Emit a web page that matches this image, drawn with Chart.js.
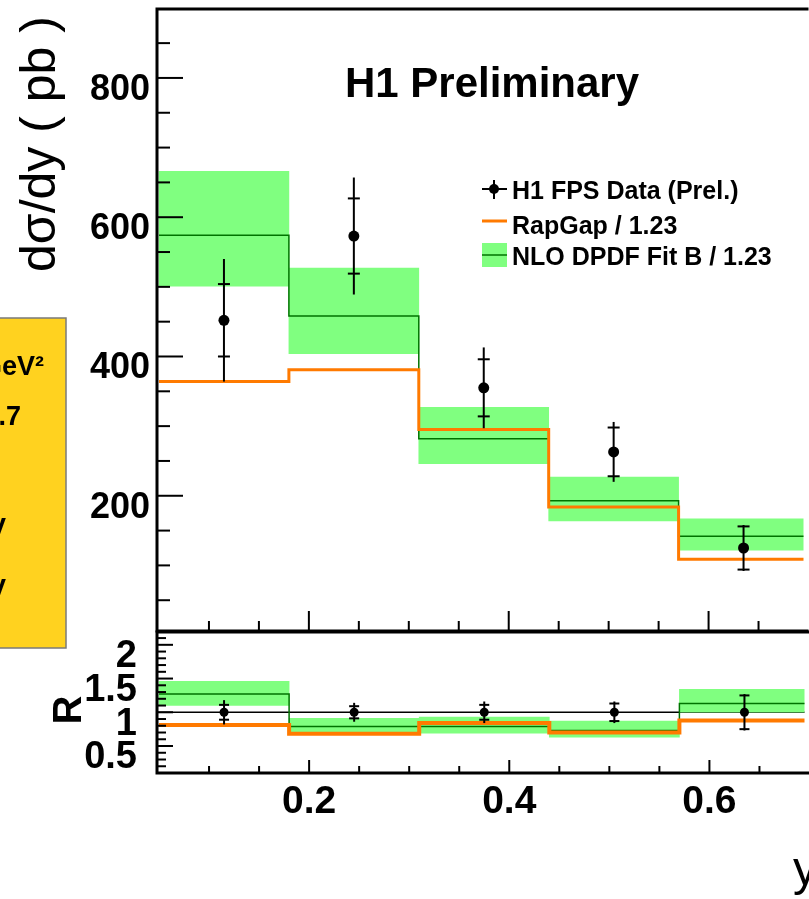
<!DOCTYPE html>
<html>
<head>
<meta charset="utf-8">
<script src="https://cdn.jsdelivr.net/npm/chart.js@4.4.1/dist/chart.umd.min.js"></script>
<style>
  body { margin: 0; background: #fff; }
  #wrap { position: relative; width: 809px; height: 899px; overflow: hidden; }
  #wrap canvas { position: absolute; left: 0; top: 0; }
</style>
</head>
<body>
<div id="wrap">
  <canvas id="upper" width="809" height="899"></canvas>
  <canvas id="lower" width="809" height="899"></canvas>
</div>
<script>
// bins in y
const binEdges = [0.05, 0.18, 0.31, 0.44, 0.57, 0.70];
const binCenters = [0.115, 0.245, 0.375, 0.505, 0.635];

// dsigma/dy (pb)
const h1Data = [452, 573, 355, 263, 125];
const h1Stat = [52, 54, 41, 35, 31];
const h1Tot = [88, 84, 58, 43, 33];
const rapgap = [364, 381, 295, 184, 109];
const nloFit = [574, 458, 282, 193, 142];
const nloLow = [501, 404, 246, 164, 122];
const nloHigh = [666, 527, 327, 227, 167];

// ratio R
const ratioData = [1, 1, 1, 1, 1];
const ratioStat = [0.11, 0.09, 0.11, 0.13, 0.25];
const ratioTot = [0.18, 0.14, 0.16, 0.16, 0.27];
const ratioRapgap = [0.81, 0.68, 0.84, 0.70, 0.88];
const ratioNlo = [1.27, 0.79, 0.79, 0.73, 1.13];
const ratioNloLow = [1.10, 0.69, 0.69, 0.63, 1.00];
const ratioNloHigh = [1.46, 0.91, 0.93, 0.87, 1.34];

const legendLabels = ['H1 FPS Data (Prel.)', 'RapGap / 1.23', 'NLO DPDF Fit B / 1.23'];
const cutLabels = ['4 < Q² < 80 GeV²', '0.05 < y < 0.7', 'x_IP < 0.1', 'E*T,jet1 > 5.5 GeV', 'E*T,jet2 > 4 GeV'];

const FONT = "'Liberation Sans', Arial, Helvetica, sans-serif";
const GREEN = '#80ff80';
const DARK_GREEN = '#007300';
const ORANGE = '#ff7a00';

Chart.defaults.font.family = FONT;
Chart.defaults.color = '#000';

function stepPoints(vals) {
  return binEdges.map((e, i) => ({ x: e, y: vals[Math.min(i, vals.length - 1)] }));
}
function bandBars(lo, hi) {
  return binCenters.map((c, i) => ({ x: c, y: [lo[i], hi[i]] }));
}
function points(vals) {
  return binCenters.map((c, i) => ({ x: c, y: vals[i] }));
}
function line(ctx, x1, y1, x2, y2) {
  ctx.beginPath();
  ctx.moveTo(x1, y1);
  ctx.lineTo(x2, y2);
  ctx.stroke();
}
function noScalePadding(s) {
  s.paddingTop = 0;
  s.paddingBottom = 0;
  s.paddingLeft = 0;
  s.paddingRight = 0;
}

// ROOT style error bars: total as line, stat as small ticks
function drawErrorBars(chart, vals, stat, tot, capHalf) {
  const { ctx, scales: { x, y } } = chart;
  ctx.save();
  ctx.strokeStyle = '#000';
  ctx.lineWidth = 2;
  binCenters.forEach((c, i) => {
    const px = x.getPixelForValue(c);
    line(ctx, px, y.getPixelForValue(vals[i] + tot[i]), px, y.getPixelForValue(vals[i] - tot[i]));
    [vals[i] + stat[i], vals[i] - stat[i]].forEach((v) => {
      const py = y.getPixelForValue(v);
      line(ctx, px - capHalf, py, px + capHalf, py);
    });
  });
  ctx.restore();
}

function datasetsFor(band, fit, mc, data, mcWidth, radius) {
  return [
    { type: 'bar', data: band, backgroundColor: GREEN, borderWidth: 0, barPercentage: 1, categoryPercentage: 1, order: 4 },
    { type: 'line', data: fit, stepped: 'before', borderColor: DARK_GREEN, borderWidth: 1.5, pointRadius: 0, order: 3 },
    { type: 'line', data: mc, stepped: 'before', borderColor: ORANGE, borderWidth: mcWidth, pointRadius: 0, order: 2 },
    { type: 'scatter', data: data, pointRadius: radius, backgroundColor: '#000', borderWidth: 0, order: 1 },
  ];
}

const hiddenGrid = { display: false, drawTicks: false };

// верхняя панель
const upperPlugin = {
  id: 'upperDecor',
  beforeDraw(chart) {
    const { ctx } = chart;
    ctx.save();
    ctx.fillStyle = '#ffd21f';
    ctx.fillRect(-4, 318, 70, 330);
    ctx.strokeStyle = '#7a7a7a';
    ctx.lineWidth = 1.5;
    ctx.strokeRect(-4, 318, 70, 330);
    ctx.fillStyle = '#000';
    ctx.textAlign = 'right';
    ctx.font = `bold 27px ${FONT}`;
    const cutPos = [[44, 375], [21, 425], [-8, 481], [6, 537], [6, 598]];
    cutLabels.forEach((t, i) => ctx.fillText(t, cutPos[i][0], cutPos[i][1]));
    ctx.restore();
  },
  afterDatasetsDraw(chart) {
    drawErrorBars(chart, h1Data, h1Stat, h1Tot, 6);
  },
  afterDraw(chart) {
    const { ctx, chartArea: a, scales: { x, y } } = chart;
    ctx.save();
    ctx.strokeStyle = '#000';
    ctx.lineWidth = 2;
    for (let v = 50; v < 900; v += 50) {
      const py = y.getPixelForValue(v);
      line(ctx, a.left, py, a.left + (v % 200 === 0 ? 26 : 13), py);
    }
    for (let k = 2; k <= 13; k++) {
      const px = x.getPixelForValue(k * 0.05);
      line(ctx, px, a.bottom, px, a.bottom - (k % 4 === 0 ? 20 : 10));
    }
    ctx.lineWidth = 3;
    ctx.beginPath();
    ctx.moveTo(a.right + 5, a.top);
    ctx.lineTo(a.left, a.top);
    ctx.lineTo(a.left, a.bottom);
    ctx.lineTo(a.right + 5, a.bottom);
    ctx.stroke();

    // title
    ctx.fillStyle = '#000';
    ctx.textAlign = 'center';
    ctx.font = `bold 42px ${FONT}`;
    ctx.fillText('H1 Preliminary', 492, 97);

    // y axis title
    ctx.save();
    ctx.translate(55, 272);
    ctx.rotate(-Math.PI / 2);
    ctx.textAlign = 'left';
    ctx.font = `50px ${FONT}`;
    ctx.fillText('dσ/dy ( pb )', 0, 0);
    ctx.restore();

    // legend
    ctx.font = `bold 25px ${FONT}`;
    ctx.textAlign = 'left';
    ctx.fillText(legendLabels[0], 512, 199);
    ctx.fillText(legendLabels[1], 512, 234);
    ctx.fillText(legendLabels[2], 512, 265);
    ctx.lineWidth = 2;
    line(ctx, 482, 189, 507, 189);
    line(ctx, 494, 180, 494, 199);
    ctx.beginPath();
    ctx.arc(494, 189, 5, 0, Math.PI * 2);
    ctx.fill();
    ctx.strokeStyle = ORANGE;
    ctx.lineWidth = 3;
    line(ctx, 482, 221, 507, 221);
    ctx.fillStyle = GREEN;
    ctx.fillRect(482, 243, 25, 24);
    ctx.strokeStyle = DARK_GREEN;
    ctx.lineWidth = 1.5;
    line(ctx, 482, 255, 507, 255);
    ctx.restore();
  },
};

new Chart(document.getElementById('upper'), {
  type: 'bar',
  data: { datasets: datasetsFor(bandBars(nloLow, nloHigh), stepPoints(nloFit), stepPoints(rapgap), points(h1Data), 3, 5.5) },
  options: {
    responsive: false,
    animation: false,
    events: [],
    layout: { padding: { left: 0, top: 9, right: 0, bottom: 268 } },
    plugins: { legend: { display: false }, tooltip: { enabled: false } },
    scales: {
      x: { type: 'linear', offset: false, min: 0.048, max: 0.695, display: false, ticks: { stepSize: 0.2, includeBounds: false } },
      y: {
        min: 5.8,
        max: 899,
        afterFit: (s) => { s.width = 157; noScalePadding(s); },
        grid: hiddenGrid,
        border: { display: false },
        ticks: {
          stepSize: 200,
          includeBounds: false,
          autoSkip: false,
          padding: 7,
          labelOffset: 12,
          font: { size: 36, weight: 'bold' },
        },
      },
    },
  },
  plugins: [upperPlugin],
});

// нижняя панель с отношением
const lowerPlugin = {
  id: 'lowerDecor',
  beforeDatasetsDraw(chart) {
    const { ctx, chartArea: a, scales: { y } } = chart;
    ctx.save();
    ctx.strokeStyle = '#000';
    ctx.lineWidth = 1.5;
    const py = y.getPixelForValue(ratioData[0]);
    line(ctx, a.left, py, a.right, py);
    ctx.restore();
  },
  afterDatasetsDraw(chart) {
    drawErrorBars(chart, ratioData, ratioStat, ratioTot, 5);
  },
  afterDraw(chart) {
    const { ctx, chartArea: a, scales: { x, y } } = chart;
    ctx.save();
    ctx.strokeStyle = '#000';
    ctx.lineWidth = 2;
    for (let k = 2; k <= 21; k++) {
      const py = y.getPixelForValue(k * 0.1);
      line(ctx, a.left, py, a.left + (k % 5 === 0 ? 16 : 9), py);
    }
    for (let k = 2; k <= 13; k++) {
      const px = x.getPixelForValue(k * 0.05);
      line(ctx, px, a.bottom, px, a.bottom - (k % 4 === 0 ? 13 : 7));
    }
    ctx.lineWidth = 3;
    ctx.beginPath();
    ctx.moveTo(a.right + 5, a.top);
    ctx.lineTo(a.left, a.top);
    ctx.lineTo(a.left, a.bottom);
    ctx.lineTo(a.right + 5, a.bottom);
    ctx.stroke();

    ctx.fillStyle = '#000';
    ctx.save();
    ctx.translate(81, 710);
    ctx.rotate(-Math.PI / 2);
    ctx.textAlign = 'center';
    ctx.font = `bold 40px ${FONT}`;
    ctx.fillText('R', 0, 0);
    ctx.restore();

    ctx.textAlign = 'left';
    ctx.font = `48px ${FONT}`;
    ctx.fillText('y', 793, 885);
    ctx.restore();
  },
};

new Chart(document.getElementById('lower'), {
  type: 'bar',
  data: { datasets: datasetsFor(bandBars(ratioNloLow, ratioNloHigh), stepPoints(ratioNlo), stepPoints(ratioRapgap), points(ratioData), 4, 4.5) },
  options: {
    responsive: false,
    animation: false,
    events: [],
    layout: { padding: { left: 0, top: 632, right: 0, bottom: 0 } },
    plugins: { legend: { display: false }, tooltip: { enabled: false } },
    scales: {
      x: {
        type: 'linear',
        offset: false,
        min: 0.048,
        max: 0.695,
        afterFit: (s) => { s.height = 126; noScalePadding(s); },
        grid: hiddenGrid,
        border: { display: false },
        ticks: {
          stepSize: 0.2,
          includeBounds: false,
          autoSkip: false,
          maxRotation: 0,
          padding: 6,
          font: { size: 39, weight: 'bold' },
          callback: (v) => v.toFixed(1),
        },
      },
      y: {
        min: 0.1,
        max: 2.19,
        afterFit: (s) => { s.width = 157; noScalePadding(s); },
        grid: hiddenGrid,
        border: { display: false },
        ticks: {
          stepSize: 0.5,
          includeBounds: false,
          autoSkip: false,
          padding: 20,
          labelOffset: 12,
          font: { size: 38, weight: 'bold' },
          callback: (v) => String(+v.toFixed(1)),
        },
      },
    },
  },
  plugins: [lowerPlugin],
});
</script>
</body>
</html>
